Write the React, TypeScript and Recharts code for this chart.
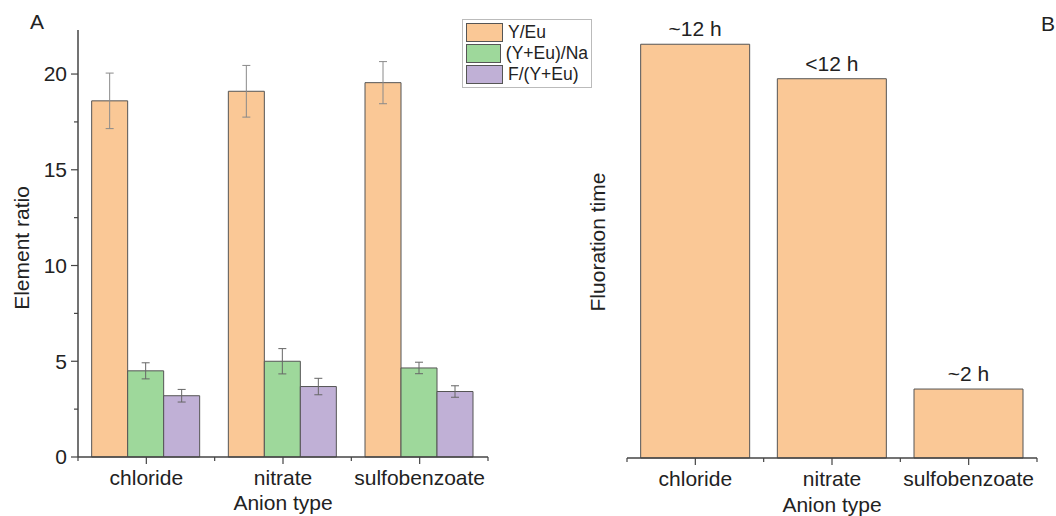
import { BarChart, Bar, XAxis, YAxis, ErrorBar, LabelList } from 'recharts';

// anion types shared by both panels
const anions = ['chloride', 'nitrate', 'sulfobenzoate'];

// panel A: element ratios with standard deviations
const yEu = [18.6, 19.1, 19.55];
const yEuErr = [1.45, 1.35, 1.1];
const yEuNa = [4.5, 5.0, 4.65];
const yEuNaErr = [0.42, 0.66, 0.3];
const fYEu = [3.2, 3.68, 3.42];
const fYEuErr = [0.33, 0.43, 0.3];
const ratioTicks = [0, 2.5, 5, 7.5, 10, 12.5, 15, 17.5, 20];

// panel B: fluoration time in hours
const hours = [12, 11, 2];
const hourNotes = ['~12 h', '<12 h', '~2 h'];

const ratioData = anions.map((name, i) => ({
  name,
  yEu: yEu[i],
  yEuErr: yEuErr[i],
  yEuNa: yEuNa[i],
  yEuNaErr: yEuNaErr[i],
  fYEu: fYEu[i],
  fYEuErr: fYEuErr[i],
}));

const timeData = anions.map((name, i) => ({ name, hours: hours[i], note: hourNotes[i] }));

const FONT = '"Liberation Sans", Arial, sans-serif';
const AXIS = '#444';
const ORANGE = '#FAC896';
const GREEN = '#9ED89B';
const PURPLE = '#C0B0D6';

const series = [
  { key: 'yEu', err: 'yEuErr', name: 'Y/Eu', fill: ORANGE, errColor: '#8a8a8a' },
  { key: 'yEuNa', err: 'yEuNaErr', name: '(Y+Eu)/Na', fill: GREEN, errColor: '#666' },
  { key: 'fYEu', err: 'fYEuErr', name: 'F/(Y+Eu)', fill: PURPLE, errColor: '#666' },
];

// category band width of both plots (410px / 3)
const BAND = 410 / 3;

function RatioTick(props: any) {
  const { x, y, payload } = props;
  const major = payload.value % 5 === 0;
  return (
    <g>
      <line x1={x - (major ? 7 : 4)} x2={x} y1={y} y2={y} stroke={AXIS} strokeWidth={1.2} />
      {major && (
        <text x={x - 11} y={y} dy="0.35em" textAnchor="end" fontSize={21} fill="#222" fontFamily={FONT}>
          {payload.value}
        </text>
      )}
    </g>
  );
}

function AnionTick(props: any) {
  const { x, y, payload, index } = props;
  return (
    <g>
      <line x1={x} x2={x} y1={y} y2={y + 7} stroke={AXIS} strokeWidth={1.2} />
      <line x1={x - BAND / 2} x2={x - BAND / 2} y1={y} y2={y + 4} stroke={AXIS} strokeWidth={1.2} />
      {index === anions.length - 1 && (
        <line x1={x + BAND / 2} x2={x + BAND / 2} y1={y} y2={y + 4} stroke={AXIS} strokeWidth={1.2} />
      )}
      <text x={x} y={y + 21} dy="0.35em" textAnchor="middle" fontSize={21} fill="#222" fontFamily={FONT}>
        {payload.value}
      </text>
    </g>
  );
}

function BoxLegend() {
  return (
    <div
      style={{
        position: 'absolute',
        left: 462,
        top: 19,
        width: 130,
        boxSizing: 'border-box',
        border: '1px solid #bbb',
        background: '#fff',
        padding: '2px 3px',
        fontFamily: FONT,
        fontSize: 17.5,
        color: '#222',
      }}
    >
      {series.map((s) => (
        <div key={s.key} style={{ display: 'flex', alignItems: 'center', height: 21 }}>
          <span
            style={{
              display: 'inline-block',
              width: 37,
              height: 19,
              background: s.fill,
              border: '1px solid #555',
              boxSizing: 'border-box',
              marginRight: 5,
            }}
          />
          {s.name}
        </div>
      ))}
    </div>
  );
}

function Titles() {
  const t = { fontFamily: FONT, fontSize: 21, fill: '#222' };
  return (
    <svg width={1056} height={516} style={{ position: 'absolute', left: 0, top: 0, pointerEvents: 'none' }}>
      <text x={30} y={29} {...t}>A</text>
      <text x={1041} y={31} {...t}>B</text>
      <text x={22} y={248} dy="0.35em" textAnchor="middle" transform="rotate(-90 22 248)" {...t}>
        Element ratio
      </text>
      <text x={598} y={242} dy="0.35em" textAnchor="middle" transform="rotate(-90 598 242)" {...t}>
        Fluoration time
      </text>
      <text x={283} y={503} dy="0.35em" textAnchor="middle" {...t}>Anion type</text>
      <text x={832} y={505} dy="0.35em" textAnchor="middle" {...t}>Anion type</text>
    </svg>
  );
}

export default function App() {
  return (
    <div style={{ position: 'absolute', left: 0, top: 0, width: 1056, height: 516, background: '#fff' }}>
      <div style={{ position: 'absolute', left: 0, top: 0 }}>
        <BarChart
          width={560}
          height={516}
          data={ratioData}
          margin={{ top: 30, right: 72, bottom: 29, left: 38 }}
          barCategoryGap="10%"
          barGap={0}
        >
          <XAxis
            dataKey="name"
            height={30}
            axisLine={{ stroke: AXIS, strokeWidth: 1.5 }}
            tickLine={false}
            tickSize={0}
            tickMargin={0}
            tick={<AnionTick />}
            interval={0}
          />
          <YAxis
            width={40}
            domain={[0, 22.3]}
            ticks={ratioTicks}
            axisLine={{ stroke: AXIS, strokeWidth: 1.5 }}
            tickLine={false}
            tickSize={0}
            tickMargin={0}
            tick={<RatioTick />}
            interval={0}
          />
          {series.map((s) => (
            <Bar
              key={s.key}
              dataKey={s.key}
              name={s.name}
              fill={s.fill}
              stroke="#555"
              strokeWidth={1}
              isAnimationActive={false}
            >
              <ErrorBar dataKey={s.err} width={4} stroke={s.errColor} strokeWidth={1} direction="y" />
            </Bar>
          ))}
        </BarChart>
      </div>
      <div style={{ position: 'absolute', left: 560, top: 0 }}>
        <BarChart
          width={496}
          height={516}
          data={timeData}
          margin={{ top: 27, right: 19, bottom: 28, left: 67 }}
          barCategoryGap="10%"
        >
          <XAxis
            dataKey="name"
            height={30}
            axisLine={{ stroke: AXIS, strokeWidth: 1.5 }}
            tickLine={false}
            tickSize={0}
            tickMargin={0}
            tick={<AnionTick />}
            interval={0}
          />
          <YAxis width={0} domain={[0, 12.5]} tick={false} tickLine={false} axisLine={{ stroke: AXIS, strokeWidth: 1.5 }} />
          <Bar dataKey="hours" fill={ORANGE} stroke="#555" strokeWidth={1} isAnimationActive={false}>
            <LabelList dataKey="note" position="top" offset={8} fontSize={21} fill="#222" fontFamily={FONT} />
          </Bar>
        </BarChart>
      </div>
      <BoxLegend />
      <Titles />
    </div>
  );
}
